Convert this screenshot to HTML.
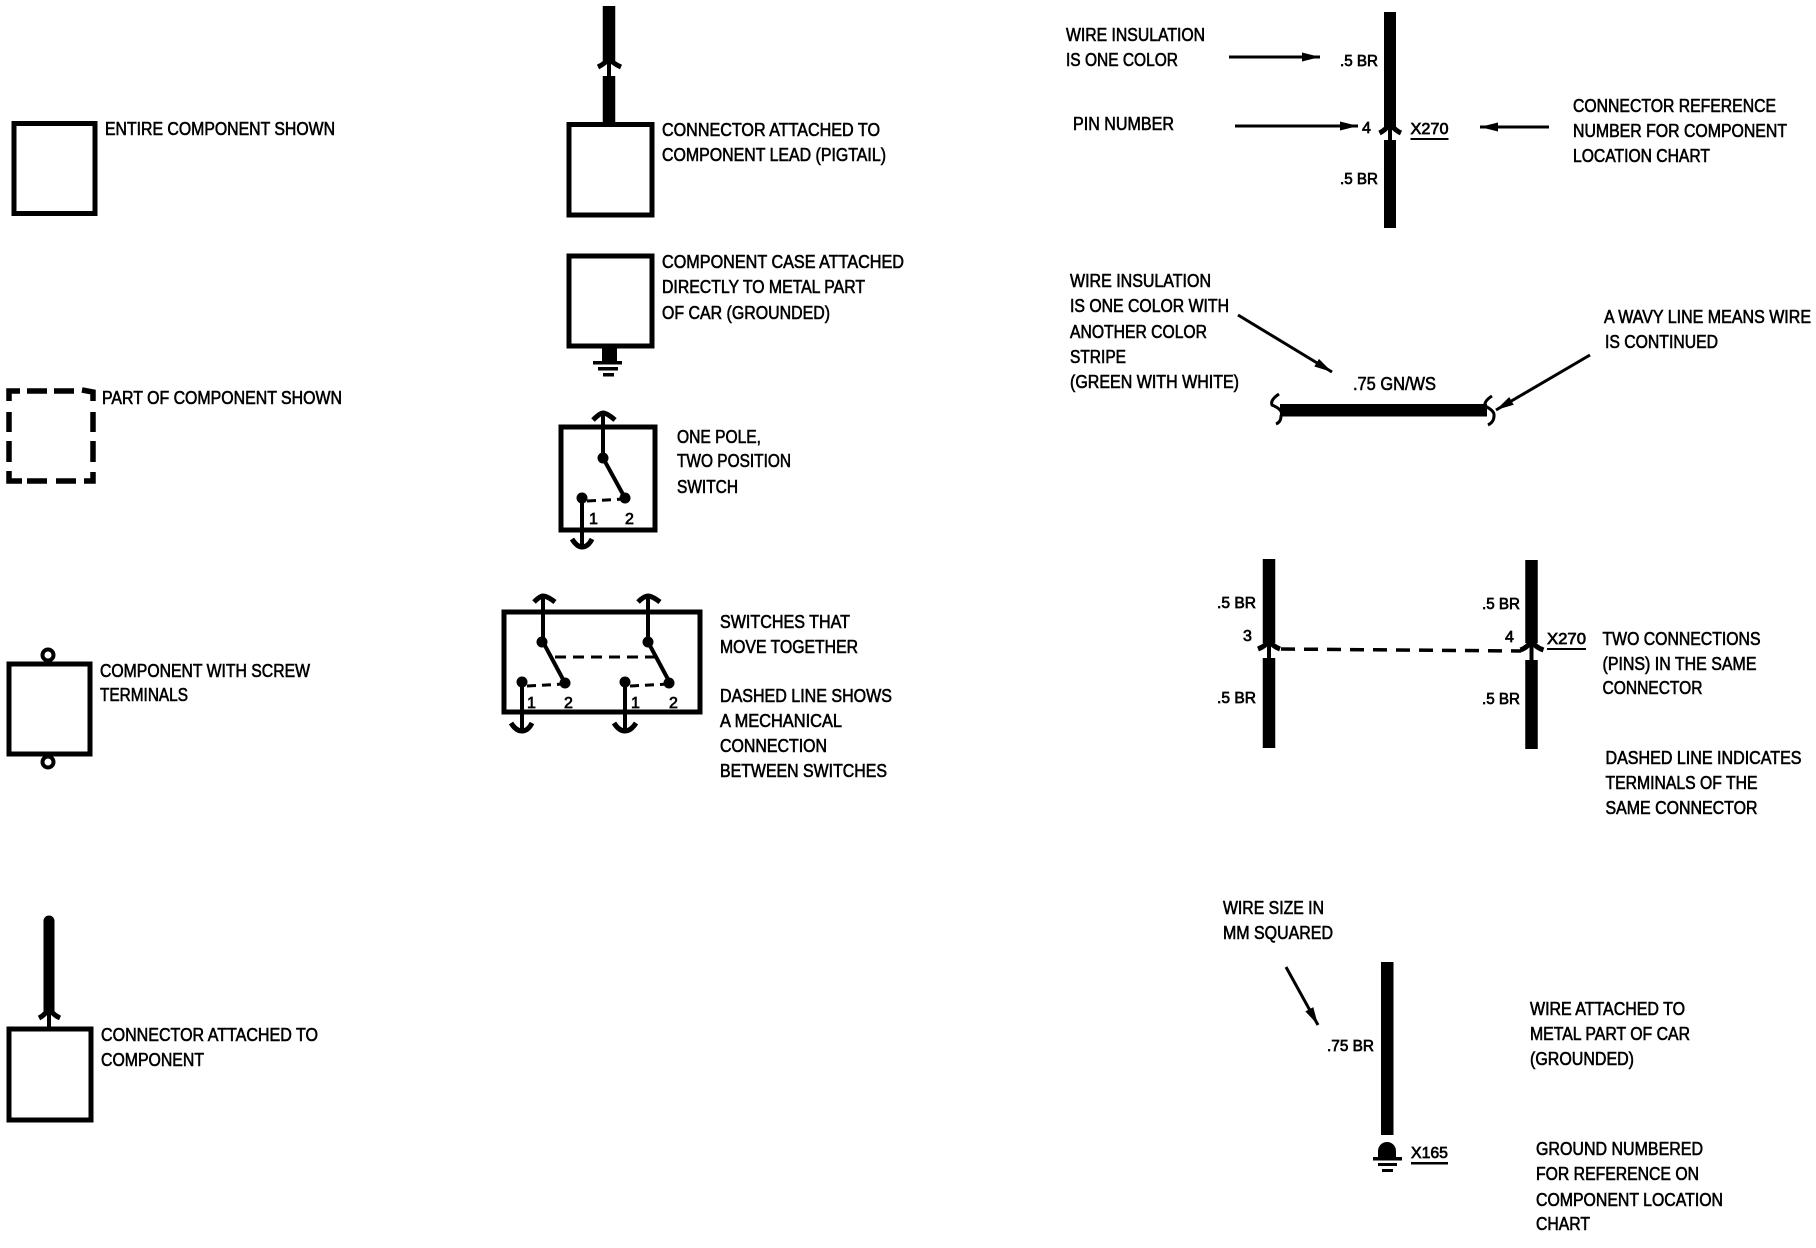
<!DOCTYPE html>
<html>
<head>
<meta charset="utf-8">
<style>
html,body{margin:0;padding:0;background:#fff;width:1816px;height:1248px;overflow:hidden}
svg{display:block}
text{font-family:"Liberation Sans",sans-serif;font-size:18px;fill:#000;stroke:#000;stroke-width:.6px}
.n{font-size:16px;stroke-width:.7px}
</style>
</head>
<body>
<svg width="1816" height="1248" viewBox="0 0 1816 1248" xmlns="http://www.w3.org/2000/svg">
<defs>
<marker id="a" markerWidth="19" markerHeight="12" refX="18" refY="6" orient="auto" markerUnits="userSpaceOnUse"><path d="M0 1.5L18 6L0 10.5z" fill="#000"/></marker>
</defs>
<rect width="1816" height="1248" fill="#fff"/>
<g fill="none" stroke="#000" stroke-width="5">
<!-- left column boxes -->
<rect x="14" y="123.5" width="81" height="90"/>
<rect x="9" y="664" width="81" height="90"/>
<rect x="9" y="1029" width="82" height="91"/>
<!-- dashed box -->
<g stroke-width="5.5">
<path d="M9 401V391H20"/><path d="M27 391H47"/><path d="M54 391H74"/><path d="M82 390L93 392V401"/>
<path d="M9 412V432"/><path d="M9 441V462"/><path d="M93 412V432"/><path d="M93 441V462"/>
<path d="M9 471V481H22"/><path d="M27 481H47"/><path d="M56 481H76"/><path d="M84 481H93V472"/>
</g>
<!-- screw terminals -->
<circle cx="48" cy="655" r="5.5" stroke-width="4"/>
<circle cx="48" cy="762" r="5.5" stroke-width="4"/>
<!-- middle boxes -->
<rect x="569" y="124.5" width="83" height="90.5"/>
<rect x="569" y="256" width="83" height="90"/>
<rect x="561" y="427" width="94" height="103"/>
<rect x="504" y="612" width="196" height="100"/>
</g>

<!-- connector attached to component -->
<path d="M49 921V1010" stroke="#000" stroke-width="11" stroke-linecap="round" fill="none"/>
<path d="M49 1010V1028" stroke="#000" stroke-width="4" fill="none"/>
<path d="M39 1018Q47 1014 49 1006Q51 1014 60 1018" stroke="#000" stroke-width="5" fill="none"/>

<!-- pigtail -->
<path d="M609 6V62M609 76V124" stroke="#000" stroke-width="12.5" fill="none"/>
<path d="M609 60V78" stroke="#000" stroke-width="4" fill="none"/>
<path d="M598 67Q606 63 609 58Q612 63 621 67" stroke="#000" stroke-width="5" fill="none"/>

<!-- case ground -->
<rect x="602" y="347" width="15" height="15" fill="#000"/>
<rect x="593" y="361" width="29" height="3.5" fill="#000"/>
<rect x="598" y="367" width="20" height="3.5" fill="#000"/>
<rect x="603" y="373" width="11" height="3.5" fill="#000"/>

<!-- one pole switch -->
<g fill="none" stroke="#000" stroke-width="4">
<path d="M603 414V458L625 498"/>
<path d="M593 420Q600 413 603 413Q607 413 615 420" stroke-width="5"/>
<path d="M582 498V546"/>
<path d="M572 539Q577 547 582 547Q588 547 592 539" stroke-width="5"/>
<path d="M587 501L625 499" stroke-dasharray="9 6" stroke-width="3"/>
</g>
<g fill="#000"><circle cx="603" cy="458" r="5.5"/><circle cx="625" cy="498" r="5.5"/><circle cx="582" cy="498" r="5.5"/></g>

<!-- ganged switches -->
<g fill="none" stroke="#000" stroke-width="4">
<path d="M543 597V642L565 683"/>
<path d="M534 602Q540 596 543 596Q547 596 555 602" stroke-width="5"/>
<path d="M648 597V642L670 683"/>
<path d="M638 602Q644 596 648 596Q652 596 660 602" stroke-width="5"/>
<path d="M522 682V730"/><path d="M625 682V730"/>
<path d="M511 723Q516 731 522 731Q528 731 532 723" stroke-width="5"/>
<path d="M614 723Q619 731 625 731Q631 731 636 723" stroke-width="5"/>
<path d="M527 686L565 684M630 686L669 684" stroke-dasharray="9 6" stroke-width="3"/>
<path d="M555 657H655" stroke-dasharray="11 7" stroke-width="3"/>
</g>
<g fill="#000">
<circle cx="542" cy="642" r="5.5"/><circle cx="565" cy="683" r="5.5"/><circle cx="522" cy="682" r="5.5"/>
<circle cx="648" cy="642" r="5.5"/><circle cx="669" cy="683" r="5.5"/><circle cx="625" cy="682" r="5.5"/>
</g>

<!-- top right wire -->
<path d="M1390 12V127M1390 140V228" stroke="#000" stroke-width="12" fill="none"/>
<path d="M1390 125V141" stroke="#000" stroke-width="4" fill="none"/>
<path d="M1379.5 133Q1387.5 129 1390 122Q1392.5 129 1401 133" stroke="#000" stroke-width="5" fill="none"/>
<g stroke="#000" stroke-width="3" fill="none">
<path d="M1229 57H1320" marker-end="url(#a)"/>
<path d="M1235 126H1358" marker-end="url(#a)"/>
<path d="M1549 127H1480" marker-end="url(#a)"/>
<path d="M1238 315L1332 372" marker-end="url(#a)"/>
<path d="M1590 355L1496 410" marker-end="url(#a)"/>
<path d="M1286 967L1318 1025" marker-end="url(#a)"/>
</g>
<rect x="1410.5" y="138" width="38" height="2" fill="#000"/>

<!-- wavy wire -->
<rect x="1280" y="404" width="207" height="12.5" fill="#000"/>
<path d="M1279 394Q1270 400 1272 405Q1284 410 1281 416Q1281 422 1276 424" stroke="#000" stroke-width="3" fill="none"/>
<path d="M1492 396Q1484 401 1485 406Q1495 411 1494 416Q1494 422 1488 425" stroke="#000" stroke-width="3" fill="none"/>

<!-- two connections -->
<path d="M1269 559V643M1269 658V748M1531.5 560V643M1531.5 660V749" stroke="#000" stroke-width="12.5" fill="none"/>
<path d="M1269 641V659M1531.5 641V661" stroke="#000" stroke-width="4" fill="none"/>
<path d="M1258 649Q1266 646 1269 640Q1272 646 1280 649" stroke="#000" stroke-width="5" fill="none"/>
<path d="M1520.5 650Q1528.5 647 1531.5 640Q1534.5 647 1543.5 650" stroke="#000" stroke-width="5" fill="none"/>
<path d="M1281 649L1521 651" stroke="#000" stroke-width="3.5" stroke-dasharray="14 9" fill="none"/>
<rect x="1547" y="648" width="39" height="2" fill="#000"/>

<!-- grounded wire -->
<rect x="1381" y="962" width="12.5" height="173" fill="#000"/>
<path d="M1378 1157V1151A9 9 0 0 1 1396 1151V1157Z" fill="#000"/>
<rect x="1373" y="1157" width="29" height="3.5" fill="#000"/>
<rect x="1378" y="1163" width="19" height="3" fill="#000"/>
<rect x="1382" y="1169" width="11" height="3" fill="#000"/>
<rect x="1411" y="1162" width="37" height="2.5" fill="#000"/>

<!-- labels -->
<g>
<text x="105" y="135" textLength="230" lengthAdjust="spacingAndGlyphs">ENTIRE COMPONENT SHOWN</text>
<text x="102" y="404" textLength="240" lengthAdjust="spacingAndGlyphs">PART OF COMPONENT SHOWN</text>
<text x="100" y="677" textLength="210" lengthAdjust="spacingAndGlyphs">COMPONENT WITH SCREW</text>
<text x="100" y="701" textLength="88" lengthAdjust="spacingAndGlyphs">TERMINALS</text>
<text x="101" y="1041" textLength="217" lengthAdjust="spacingAndGlyphs">CONNECTOR ATTACHED TO</text>
<text x="101" y="1066" textLength="103" lengthAdjust="spacingAndGlyphs">COMPONENT</text>

<text x="662" y="136" textLength="218" lengthAdjust="spacingAndGlyphs">CONNECTOR ATTACHED TO</text>
<text x="662" y="161" textLength="224" lengthAdjust="spacingAndGlyphs">COMPONENT LEAD (PIGTAIL)</text>
<text x="662" y="268" textLength="242" lengthAdjust="spacingAndGlyphs">COMPONENT CASE ATTACHED</text>
<text x="662" y="293" textLength="203" lengthAdjust="spacingAndGlyphs">DIRECTLY TO METAL PART</text>
<text x="662" y="319" textLength="168" lengthAdjust="spacingAndGlyphs">OF CAR (GROUNDED)</text>
<text x="677" y="443" textLength="84" lengthAdjust="spacingAndGlyphs">ONE POLE,</text>
<text x="677" y="467" textLength="114" lengthAdjust="spacingAndGlyphs">TWO POSITION</text>
<text x="677" y="493" textLength="61" lengthAdjust="spacingAndGlyphs">SWITCH</text>
<text class="n" x="589" y="524">1</text>
<text class="n" x="625" y="524">2</text>
<text class="n" x="527" y="708">1</text>
<text class="n" x="564" y="708">2</text>
<text class="n" x="631" y="708">1</text>
<text class="n" x="669" y="708">2</text>
<text x="720" y="628" textLength="130" lengthAdjust="spacingAndGlyphs">SWITCHES THAT</text>
<text x="720" y="653" textLength="138" lengthAdjust="spacingAndGlyphs">MOVE TOGETHER</text>
<text x="720" y="702" textLength="172" lengthAdjust="spacingAndGlyphs">DASHED LINE SHOWS</text>
<text x="720" y="727" textLength="122" lengthAdjust="spacingAndGlyphs">A MECHANICAL</text>
<text x="720" y="752" textLength="107" lengthAdjust="spacingAndGlyphs">CONNECTION</text>
<text x="720" y="777" textLength="167" lengthAdjust="spacingAndGlyphs">BETWEEN SWITCHES</text>

<text x="1066" y="41" textLength="139" lengthAdjust="spacingAndGlyphs">WIRE INSULATION</text>
<text x="1066" y="66" textLength="112" lengthAdjust="spacingAndGlyphs">IS ONE COLOR</text>
<text x="1073" y="130" textLength="101" lengthAdjust="spacingAndGlyphs">PIN NUMBER</text>
<text class="n" x="1340" y="66" textLength="38" lengthAdjust="spacingAndGlyphs">.5 BR</text>
<text class="n" x="1340" y="184" textLength="38" lengthAdjust="spacingAndGlyphs">.5 BR</text>
<text class="n" x="1362" y="133">4</text>
<text class="n" x="1410.5" y="134" textLength="38" lengthAdjust="spacingAndGlyphs">X270</text>
<text x="1573" y="112" textLength="203" lengthAdjust="spacingAndGlyphs">CONNECTOR REFERENCE</text>
<text x="1573" y="137" textLength="214" lengthAdjust="spacingAndGlyphs">NUMBER FOR COMPONENT</text>
<text x="1573" y="162" textLength="137" lengthAdjust="spacingAndGlyphs">LOCATION CHART</text>

<text x="1070" y="287" textLength="141" lengthAdjust="spacingAndGlyphs">WIRE INSULATION</text>
<text x="1070" y="312" textLength="159" lengthAdjust="spacingAndGlyphs">IS ONE COLOR WITH</text>
<text x="1070" y="338" textLength="137" lengthAdjust="spacingAndGlyphs">ANOTHER COLOR</text>
<text x="1070" y="363" textLength="56" lengthAdjust="spacingAndGlyphs">STRIPE</text>
<text x="1070" y="388" textLength="169" lengthAdjust="spacingAndGlyphs">(GREEN WITH WHITE)</text>
<text x="1353" y="390" textLength="83" lengthAdjust="spacingAndGlyphs">.75 GN/WS</text>
<text x="1604" y="323" textLength="207" lengthAdjust="spacingAndGlyphs">A WAVY LINE MEANS WIRE</text>
<text x="1605" y="348" textLength="113" lengthAdjust="spacingAndGlyphs">IS CONTINUED</text>

<text class="n" x="1217" y="608" textLength="39" lengthAdjust="spacingAndGlyphs">.5 BR</text>
<text class="n" x="1217" y="703" textLength="39" lengthAdjust="spacingAndGlyphs">.5 BR</text>
<text class="n" x="1243" y="641">3</text>
<text class="n" x="1482" y="609" textLength="38" lengthAdjust="spacingAndGlyphs">.5 BR</text>
<text class="n" x="1482" y="704" textLength="38" lengthAdjust="spacingAndGlyphs">.5 BR</text>
<text class="n" x="1505" y="642">4</text>
<text class="n" x="1547" y="644" textLength="39" lengthAdjust="spacingAndGlyphs">X270</text>
<text x="1602.5" y="645" textLength="158" lengthAdjust="spacingAndGlyphs">TWO CONNECTIONS</text>
<text x="1602.5" y="670" textLength="154" lengthAdjust="spacingAndGlyphs">(PINS) IN THE SAME</text>
<text x="1602.5" y="694" textLength="100" lengthAdjust="spacingAndGlyphs">CONNECTOR</text>
<text x="1605.5" y="764" textLength="196" lengthAdjust="spacingAndGlyphs">DASHED LINE INDICATES</text>
<text x="1605.5" y="789" textLength="152" lengthAdjust="spacingAndGlyphs">TERMINALS OF THE</text>
<text x="1605.5" y="814" textLength="152" lengthAdjust="spacingAndGlyphs">SAME CONNECTOR</text>

<text x="1223" y="914" textLength="101" lengthAdjust="spacingAndGlyphs">WIRE SIZE IN</text>
<text x="1223" y="939" textLength="110" lengthAdjust="spacingAndGlyphs">MM SQUARED</text>
<text class="n" x="1327" y="1051" textLength="47" lengthAdjust="spacingAndGlyphs">.75 BR</text>
<text class="n" x="1411" y="1158" textLength="37" lengthAdjust="spacingAndGlyphs">X165</text>
<text x="1530" y="1015" textLength="155" lengthAdjust="spacingAndGlyphs">WIRE ATTACHED TO</text>
<text x="1530" y="1040" textLength="160" lengthAdjust="spacingAndGlyphs">METAL PART OF CAR</text>
<text x="1530" y="1065" textLength="104" lengthAdjust="spacingAndGlyphs">(GROUNDED)</text>
<text x="1536" y="1155" textLength="167" lengthAdjust="spacingAndGlyphs">GROUND NUMBERED</text>
<text x="1536" y="1180" textLength="163" lengthAdjust="spacingAndGlyphs">FOR REFERENCE ON</text>
<text x="1536" y="1206" textLength="187" lengthAdjust="spacingAndGlyphs">COMPONENT LOCATION</text>
<text x="1536" y="1230" textLength="54" lengthAdjust="spacingAndGlyphs">CHART</text>
</g>
</svg>
</body>
</html>
